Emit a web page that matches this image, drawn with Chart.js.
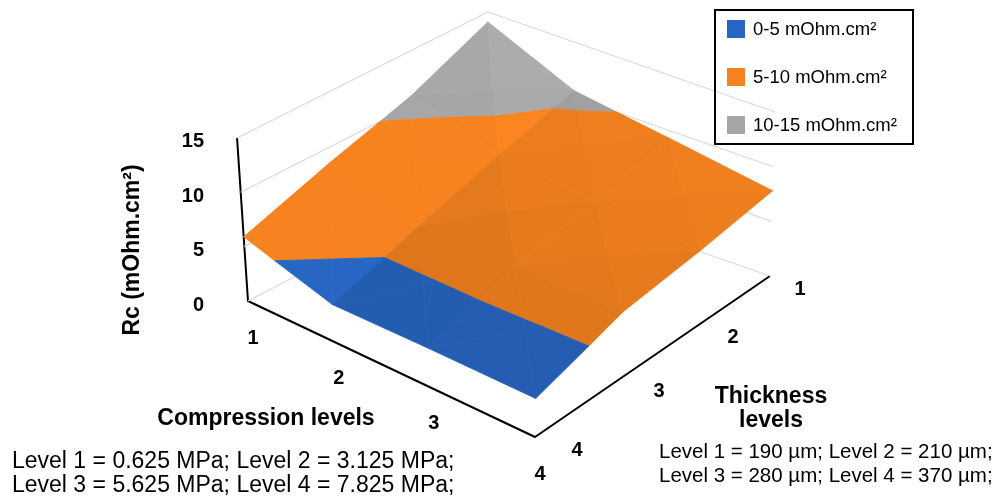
<!DOCTYPE html>
<html>
<head>
<meta charset="utf-8">
<script src="https://cdn.jsdelivr.net/npm/chart.js@4.4.0/dist/chart.umd.min.js"></script>
<style>
  html, body { margin: 0; padding: 0; background: #fff; }
  #wrap { width: 1001px; height: 496px; position: relative; }
</style>
</head>
<body>
<div id="wrap"><canvas id="surface"></canvas></div>
<script>
'use strict';

// ---- data ----
const compressionLevels = ['1', '2', '3', '4'];
const thicknessLevels = ['1', '2', '3', '4'];
const rcTicks = [0, 5, 10, 15];

// Rc (mOhm.cm2) per thickness level, ordered by compression level 1..4
const rcThickness1 = [14.1, 10.6, 9.3, 7.8];
const rcThickness2 = [10.9, 8.5, 7.6, 6.8];
const rcThickness3 = [8.6, 6.1, 6.1, 6.0];
const rcThickness4 = [5.9, 3.4, 3.5, 3.5];

const bandLabels = ['0-5 mOhm.cm²', '5-10 mOhm.cm²', '10-15 mOhm.cm²'];
const bandLimits = [0, 5, 10, 15];
const bandColors = ['#2766c2', '#f5821f', '#a6a6a6'];

const compressionNote = ['Level 1 = 0.625 MPa; Level 2 = 3.125 MPa;', 'Level 3 = 5.625 MPa; Level 4 = 7.825 MPa;'];
const thicknessNote = ['Level 1 = 190 µm; Level 2 = 210 µm;', 'Level 3 = 280 µm; Level 4 = 370 µm;'];

const rcRows = [rcThickness1, rcThickness2, rcThickness3, rcThickness4];

// ---- camera: floor corners on screen and pixel step per Rc unit ----
// u runs along compression (1 -> 4), v along thickness (4 -> 1)
const floorL = [248, 301];  // comp 1, thick 4
const floorF = [535, 437];  // comp 4, thick 4
const floorR = [770, 276];  // comp 4, thick 1
const floorB = [486, 177];  // comp 1, thick 1
const riseL = [-0.73, -10.87];
const riseF = [0.2, -11.0];
const riseR = [0.33, -10.93];
const riseB = [0.13, -11.0];

function homography(p0, p1, p2, p3) {
  const dx1 = p1[0] - p2[0], dy1 = p1[1] - p2[1];
  const dx2 = p3[0] - p2[0], dy2 = p3[1] - p2[1];
  const dx3 = p0[0] - p1[0] + p2[0] - p3[0];
  const dy3 = p0[1] - p1[1] + p2[1] - p3[1];
  const den = dx1 * dy2 - dy1 * dx2;
  const g = (dx3 * dy2 - dy3 * dx2) / den;
  const h = (dx1 * dy3 - dy1 * dx3) / den;
  return {
    a: p1[0] - p0[0] + g * p1[0], b: p3[0] - p0[0] + h * p3[0], c: p0[0],
    d: p1[1] - p0[1] + g * p1[1], e: p3[1] - p0[1] + h * p3[1], f: p0[1],
    g: g, h: h
  };
}

const H = homography(floorL, floorF, floorR, floorB);

function project(u, v, z) {
  const w = H.g * u + H.h * v + 1;
  const fx = (H.a * u + H.b * v + H.c) / w;
  const fy = (H.d * u + H.e * v + H.f) / w;
  const kL = (1 - u) * (1 - v), kF = u * (1 - v), kR = u * v, kB = (1 - u) * v;
  const rx = kL * riseL[0] + kF * riseF[0] + kR * riseR[0] + kB * riseB[0];
  const ry = kL * riseL[1] + kF * riseF[1] + kR * riseR[1] + kB * riseB[1];
  return { x: fx + rx * z, y: fy + ry * z };
}

// ---- surface facets ----
function gridPoint(ci, ti) {
  return { u: ci / 3, v: (3 - ti) / 3, z: rcRows[ti][ci] };
}

function clipBy(poly, f) {
  const res = [];
  for (let i = 0; i < poly.length; i++) {
    const a = poly[i], b = poly[(i + 1) % poly.length];
    const fa = f(a), fb = f(b);
    if (fa >= 0) res.push(a);
    if ((fa >= 0) !== (fb >= 0)) {
      const t = fa / (fa - fb);
      res.push({ u: a.u + (b.u - a.u) * t, v: a.v + (b.v - a.v) * t, z: a.z + (b.z - a.z) * t });
    }
  }
  return res;
}

function shade(hex, k) {
  const n = parseInt(hex.slice(1), 16);
  const ch = [(n >> 16) & 255, (n >> 8) & 255, n & 255].map(function (c) {
    return Math.max(0, Math.min(255, Math.round(c * k)));
  });
  return 'rgb(' + ch.join(',') + ')';
}

function facetLight(tri) {
  const P = tri.map(function (p) { return [p.u * 3, p.v * 3, p.z * 0.1]; });
  const e1 = [P[1][0] - P[0][0], P[1][1] - P[0][1], P[1][2] - P[0][2]];
  const e2 = [P[2][0] - P[0][0], P[2][1] - P[0][1], P[2][2] - P[0][2]];
  let n = [e1[1] * e2[2] - e1[2] * e2[1], e1[2] * e2[0] - e1[0] * e2[2], e1[0] * e2[1] - e1[1] * e2[0]];
  if (n[2] < 0) n = n.map(function (c) { return -c; });
  const len = Math.hypot(n[0], n[1], n[2]);
  const dot = (0.8 * n[0] + 0.6 * n[2]) / len;
  return 0.95 + 0.55 * (dot - 0.65);
}

const pieces = [];
for (let ti = 0; ti < 3; ti++) {
  for (let ci = 0; ci < 3; ci++) {
    const p00 = gridPoint(ci, ti), p10 = gridPoint(ci + 1, ti);
    const p11 = gridPoint(ci + 1, ti + 1), p01 = gridPoint(ci, ti + 1);
    const mid = {
      u: (p00.u + p11.u) / 2, v: (p00.v + p11.v) / 2,
      z: (p00.z + p10.z + p11.z + p01.z) / 4
    };
    const tris = [[p00, p10, mid], [p10, p11, mid], [p11, p01, mid], [p01, p00, mid]];
    tris.forEach(function (tri) {
      const k = facetLight(tri);
      const depth = (tri[0].v + tri[1].v + tri[2].v) / 3 - (tri[0].u + tri[1].u + tri[2].u) / 3;
      for (let b = 0; b < 3; b++) {
        let poly = clipBy(tri, function (p) { return p.z - bandLimits[b]; });
        poly = clipBy(poly, function (p) { return bandLimits[b + 1] - p.z; });
        if (poly.length < 3) continue;
        pieces.push({ poly: poly, color: shade(bandColors[b], k), depth: depth });
      }
    });
  }
}

pieces.sort(function (a, b) { return a.depth - b.depth; });

const datasets = [];
pieces.forEach(function (pc, i) {
  const pts = pc.poly.map(function (p) { return project(p.u, p.v, p.z); });
  pts.push(pts[0]);
  datasets.push({
    data: pts, showLine: true, fill: 'shape',
    backgroundColor: pc.color, borderColor: pc.color, borderWidth: 0.8,
    pointRadius: 0, order: 10 + i
  });
});

// back walls: gridlines at each Rc tick
rcTicks.forEach(function (z) {
  datasets.push({
    data: [project(0, 0, z), project(0, 1, z), project(1, 1, z)],
    showLine: true, fill: false, borderColor: '#d9d9d9', borderWidth: 1.2,
    pointRadius: 0, order: 5000
  });
});

// axis lines
datasets.push({
  data: [project(0, 0, rcTicks[rcTicks.length - 1]), project(0, 0, 0), project(1, 0, 0), project(1, 1, 0)],
  showLine: true, fill: false, borderColor: '#000', borderWidth: 2,
  pointRadius: 0, order: 5001
});

const FONT = "'Liberation Sans', Arial, sans-serif";

const labelPlugin = {
  id: 'surfaceLabels',
  afterDraw: function (chart) {
    const c = chart.ctx;
    const sx = chart.scales.x, sy = chart.scales.y;
    function at(p) { return [sx.getPixelForValue(p.x), sy.getPixelForValue(p.y)]; }
    c.save();
    c.fillStyle = '#000';
    c.textBaseline = 'middle';

    // Rc ticks
    c.font = 'bold 20px ' + FONT;
    c.textAlign = 'right';
    rcTicks.forEach(function (z) {
      const p = at(project(0, 0, z));
      c.fillText(String(z), 204, p[1] + 4);
    });

    // category labels
    c.textAlign = 'center';
    compressionLevels.forEach(function (lab, i) {
      const p = at(project(i / 3, 0, 0));
      c.fillText(lab, p[0] + 5, p[1] + 37);
    });
    thicknessLevels.forEach(function (lab, i) {
      const p = at(project(1, (3 - i) / 3, 0));
      c.fillText(lab, p[0] + 30 + 4 * i, p[1] + 13);
    });

    // axis titles
    c.font = 'bold 23px ' + FONT;
    c.fillText('Compression levels', 266, 419);
    c.fillText('Thickness', 771, 397);
    c.fillText('levels', 771, 421);
    c.save();
    c.translate(133, 250);
    c.rotate(-Math.PI / 2);
    c.fillText('Rc (mOhm.cm²)', 0, 0);
    c.restore();

    c.textAlign = 'left';
    c.font = '23px ' + FONT;
    c.fillText(compressionNote[0], 12, 462);
    c.fillText(compressionNote[1], 12, 486);
    c.font = '20.5px ' + FONT;
    c.fillText(thicknessNote[0], 659, 452);
    c.fillText(thicknessNote[1], 659, 476);

    // legend
    c.lineWidth = 2;
    c.strokeStyle = '#000';
    c.strokeRect(715, 10, 198, 134);
    c.font = '18.5px ' + FONT;
    bandLabels.forEach(function (lab, i) {
      const cy = 29 + i * 48;
      c.fillStyle = bandColors[i];
      c.fillRect(727, cy - 9, 18, 18);
      c.fillStyle = '#000';
      c.fillText(lab, 753, cy + 1);
    });
    c.restore();
  }
};

new Chart(document.getElementById('surface'), {
  type: 'scatter',
  data: { datasets: datasets },
  options: {
    responsive: true,
    maintainAspectRatio: false,
    animation: false,
    events: [],
    layout: { padding: 0 },
    plugins: { legend: { display: false }, tooltip: { enabled: false } },
    elements: { line: { tension: 0, borderJoinStyle: 'round' } },
    scales: {
      x: { type: 'linear', display: false, min: 0, max: 1001 },
      y: { type: 'linear', display: false, min: 0, max: 496, reverse: true }
    }
  },
  plugins: [labelPlugin]
});
</script>
</body>
</html>
